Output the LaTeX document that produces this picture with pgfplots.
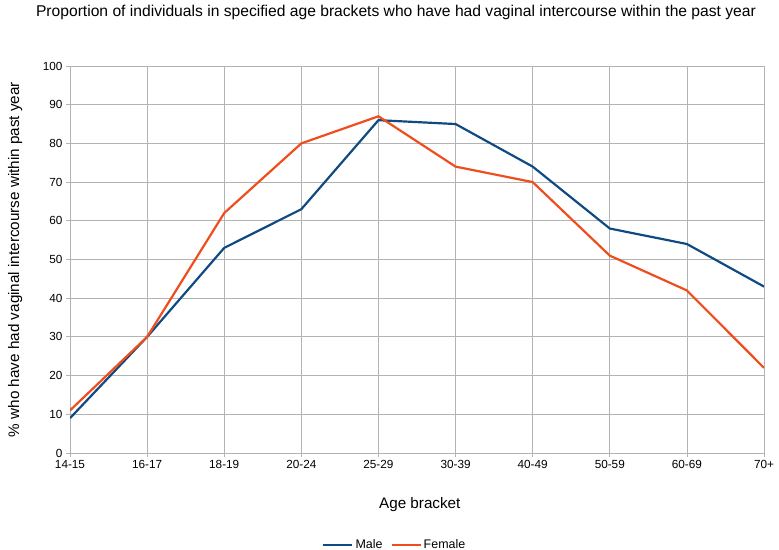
\documentclass[border=0pt]{standalone}
\usepackage{fontspec}
\setmainfont{Liberation Sans}
\usepackage{pgfplots}
\pgfplotsset{compat=1.18}
\definecolor{male}{HTML}{104A82}
\definecolor{female}{HTML}{F04D1E}
\definecolor{gridc}{HTML}{B3B3B3}
\begin{document}
\begin{tikzpicture}[x=1bp,y=1bp]
\path[use as bounding box] (0,0) rectangle (779,550);
\node[font=\fontsize{15.7}{18}\selectfont] at (396,538) {Proportion of individuals in specified age brackets who have had vaginal intercourse within the past year};
\begin{axis}[
  at={(70bp,97bp)}, anchor=south west,
  scale only axis, width=694bp, height=387bp,
  xmin=0, xmax=9, ymin=0, ymax=100,
  xtick={0,...,9},
  xticklabels={14-15,16-17,18-19,20-24,25-29,30-39,40-49,50-59,60-69,70+},
  ytick={0,10,...,100},
  grid=major,
  grid style={gridc, line width=0.8pt},
  axis line style={gridc, line width=0.8pt},
  tick style={gridc, line width=0.8pt},
  tick align=outside,
  major tick length=4bp,
  xtick pos=bottom, ytick pos=left,
  /pgf/number format/assume math mode=true,
  tick label style={font=\fontsize{11.8}{13}\selectfont, black},
  xlabel={Age bracket},
  ylabel={\% who have had vaginal intercourse within past year},
  label style={font=\fontsize{15.3}{17}\selectfont},
  xlabel style={at={(axis description cs:0.504,-0.134)}, anchor=center},
  ylabel style={at={(axis description cs:-0.079,0.5)}, anchor=center, rotate=0},
  legend style={draw=none, at={(axis description cs:0.468,-0.238)}, anchor=center, font=\fontsize{12.5}{14}\selectfont, /tikz/every even column/.append style={column sep=6bp}, inner sep=1bp},
  legend columns=2,
  legend image code/.code={\draw[#1] (0bp,0bp) -- (29bp,0bp);},
  legend cell align=left,
]
\addplot[male, line width=2.2pt] coordinates {(0,9) (1,30) (2,53) (3,63) (4,86) (5,85) (6,74) (7,58) (8,54) (9,43)};
\addlegendentry{Male}
\addplot[female, line width=2.2pt] coordinates {(0,11) (1,30) (2,62) (3,80) (4,87) (5,74) (6,70) (7,51) (8,42) (9,22)};
\addlegendentry{Female}
\end{axis}
\end{tikzpicture}
\end{document}
